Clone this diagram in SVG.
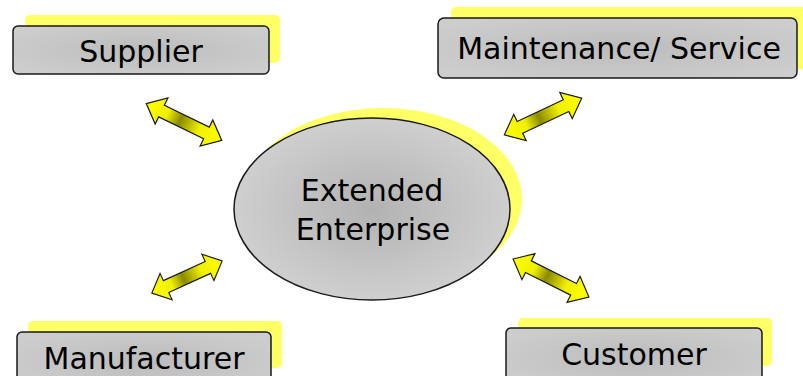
<svg xmlns="http://www.w3.org/2000/svg" width="803" height="376" viewBox="0 0 803 376">
<defs>
<radialGradient id="boxg" cx="0.5" cy="0.5" r="0.6">
<stop offset="0" stop-color="#bcbcbc"/>
<stop offset="1" stop-color="#cdcdcd"/>
</radialGradient>
<radialGradient id="ellg" cx="0.5" cy="0.5" r="0.55">
<stop offset="0" stop-color="#b2b2b2"/>
<stop offset="1" stop-color="#d2d2d2"/>
</radialGradient>
<linearGradient id="arrg" x1="0" y1="0" x2="1" y2="0">
<stop offset="0" stop-color="#ffff00"/>
<stop offset="0.28" stop-color="#f0f000"/>
<stop offset="0.45" stop-color="#8a8a00"/>
<stop offset="0.7" stop-color="#f0f000"/>
<stop offset="1" stop-color="#ffff00"/>
</linearGradient>
<path id="arr" d="M-42,0 L-25,-14.5 L-25,-6.5 L25,-6.5 L25,-14.5 L42,0 L25,14.5 L25,6.5 L-25,6.5 L-25,14.5 Z"/>
</defs>
<style>
.sh{fill:#ffff66;}
.box{fill:url(#boxg);stroke:#1a1a1a;stroke-width:1.5;}
.ell{fill:url(#ellg);stroke:#1a1a1a;stroke-width:1.5;}
.t{font-family:"DejaVu Sans",sans-serif;font-size:30px;fill:#000;text-anchor:middle;}
.a{fill:url(#arrg);stroke:#1a1a1a;stroke-width:1.2;stroke-linejoin:miter;}
</style>
<rect width="803" height="376" fill="#fff"/>
<g id="supplier">
<rect class="sh" x="25" y="15" width="255" height="48" rx="5"/>
<rect class="box" x="13" y="26" width="256" height="48" rx="5"/>
<text class="t" x="141" y="62">Supplier</text>
</g>
<g id="maintenance">
<rect class="sh" x="451" y="7" width="360" height="62" rx="5"/>
<rect class="box" x="438" y="18" width="359" height="60" rx="6"/>
<text class="t" x="619" y="59">Maintenance/ Service</text>
</g>
<g id="manufacturer">
<rect class="sh" x="28" y="321" width="254" height="47" rx="5"/>
<rect class="box" x="17" y="332" width="254" height="60" rx="5"/>
<text class="t" x="144" y="369">Manufacturer</text>
</g>
<g id="customer">
<rect class="sh" x="518" y="318" width="254" height="48" rx="5"/>
<rect class="box" x="506" y="328" width="256" height="60" rx="5"/>
<text class="t" x="634" y="365">Customer</text>
</g>
<g id="enterprise">
<ellipse class="sh" cx="383" cy="199" rx="139" ry="91"/>
<ellipse class="ell" cx="372" cy="209" rx="138" ry="91"/>
<text class="t" x="372" y="201">Extended</text>
<text class="t" x="373" y="240">Enterprise</text>
</g>
<g id="connectors">
<use href="#arr" class="a" transform="translate(184,122) rotate(26)"/>
<use href="#arr" class="a" transform="translate(543,116.5) rotate(-25.4) scale(1.02,1)"/>
<use href="#arr" class="a" transform="translate(187,277) rotate(-24.6) scale(0.92,1)"/>
<use href="#arr" class="a" transform="translate(551,278) rotate(26.6) scale(1.01,1)"/>
</g>
</svg>
